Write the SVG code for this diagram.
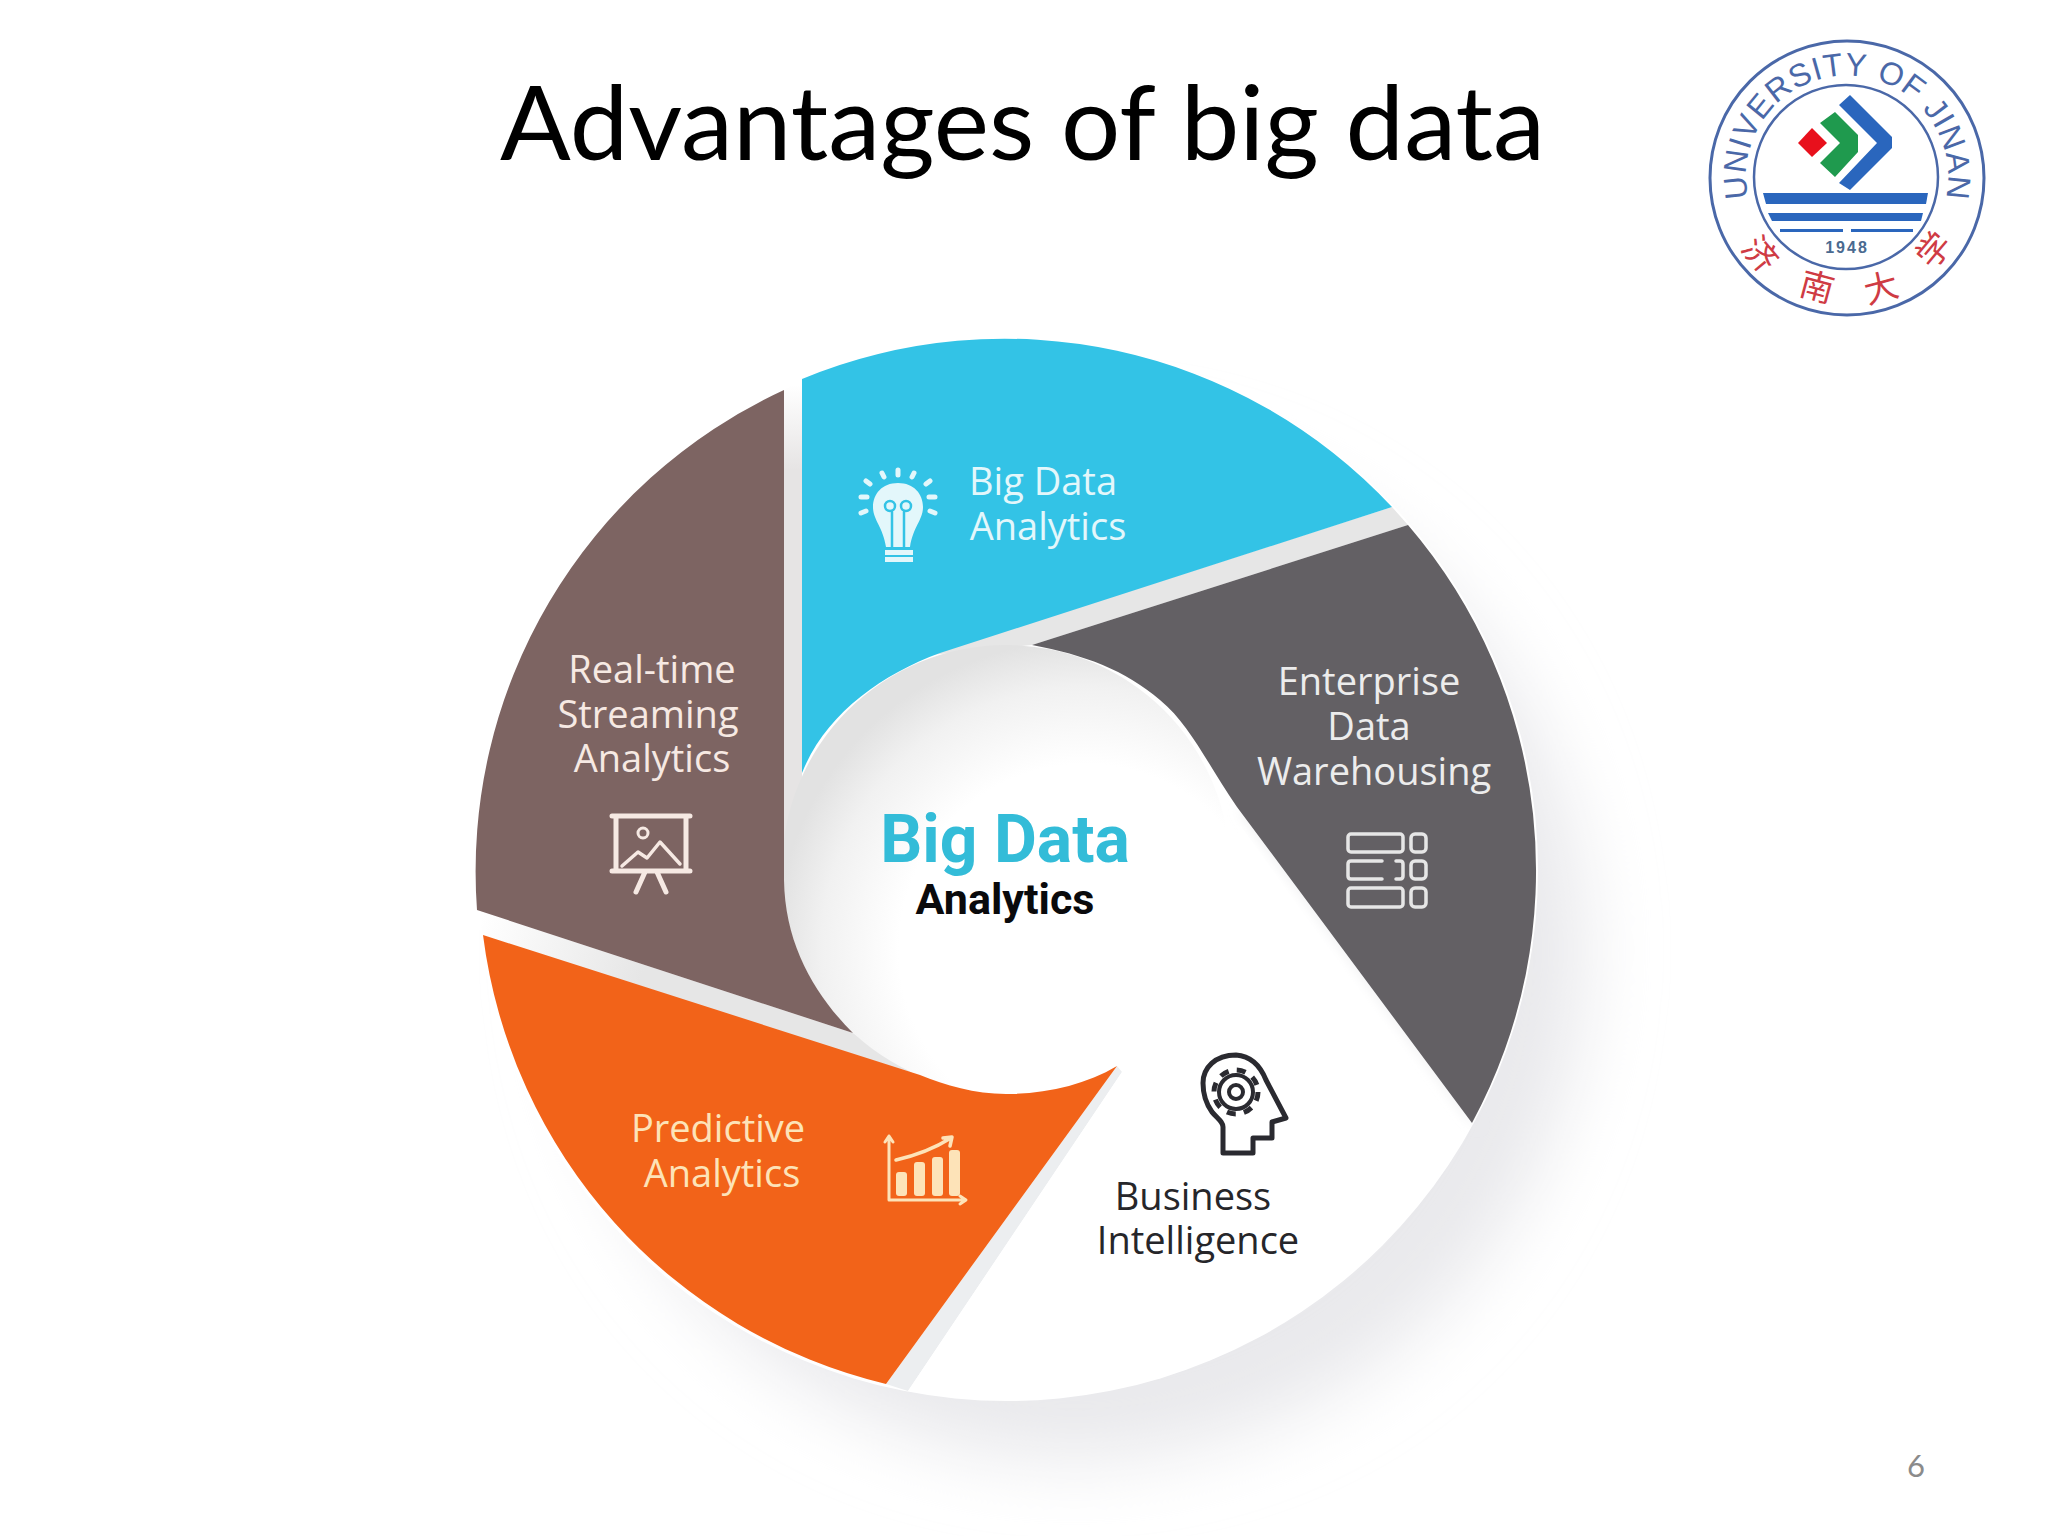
<svg xmlns="http://www.w3.org/2000/svg" width="2048" height="1536" viewBox="0 0 2048 1536">
<style>
.lab{font-family:"Open Sans","Noto Sans",sans-serif;font-size:38px;text-anchor:middle}
.w{fill:#e3f7fb}.br{fill:#f6e9e3}.gy{fill:#ececec}.or{fill:#fde3b8}.bk{fill:#26262a}
.ln{fill:none;stroke-linecap:round;stroke-linejoin:round}
.seal{font-family:"Noto Sans CJK SC",sans-serif;font-size:34px;fill:#cf3b44;text-anchor:middle}
</style>
<defs>
<filter id="blur" x="-20%" y="-20%" width="140%" height="140%"><feGaussianBlur stdDeviation="36"/></filter>
<filter id="soft" x="-20%" y="-20%" width="140%" height="140%"><feGaussianBlur stdDeviation="6"/></filter>
<radialGradient id="hub" gradientUnits="userSpaceOnUse" cx="1085" cy="950" r="310"><stop offset="0.6" stop-color="#fff"/><stop offset="0.85" stop-color="#f1f1f1"/><stop offset="1" stop-color="#e2e2e2"/></radialGradient>
<linearGradient id="gapL" gradientUnits="userSpaceOnUse" x1="480" y1="920" x2="640" y2="980"><stop offset="0" stop-color="#fff"/><stop offset="1" stop-color="#e6e6e6"/></linearGradient>
<linearGradient id="gapT" gradientUnits="userSpaceOnUse" x1="793" y1="385" x2="793" y2="470"><stop offset="0" stop-color="#fff"/><stop offset="1" stop-color="#e6e4e4"/></linearGradient>
<path id="ringText" d="M1749 201A101 101 0 1 1 1945 201"/>
</defs>

<g id="shadow">
<circle cx="1075" cy="950" r="510" fill="#e9e9ec" filter="url(#blur)"/>
<circle cx="1007" cy="870" r="531" fill="#fff"/>
<polygon points="1237,807 1467,1117 1480,1128 1250,815" fill="#e6e6e8" filter="url(#soft)"/>
</g>

<g id="gaps">
<polygon points="784,390 802,379 802,800 784,900" fill="url(#gapT)"/>
<polygon points="1392,507 1408,525 1032,645 930,655" fill="#e6e6e6"/>
<polygon points="477,910 483,935 930,1085 853,1033" fill="url(#gapL)"/>
<polygon points="886,1384 908,1391 1122,1072 1117,1066" fill="#eceef0"/>
</g>

<g id="hub-node">
<circle cx="1006" cy="869" r="224" fill="url(#hub)"/>
<text x="1005" y="862" font-family="Roboto,sans-serif" font-weight="700" font-size="66" fill="#33bcd8" text-anchor="middle">Big Data</text>
<text x="1005" y="914" font-family="Roboto,sans-serif" font-weight="700" font-size="43" fill="#0a0a0c" text-anchor="middle">Analytics</text>
</g>

<g id="node-bigdata">
<path d="M802 379A530 530 0 0 1 1392 507L940 653C880 675 825 715 802 773Z" fill="#33c3e6"/>
<g fill="#e3f7fb">
<path d="M898 483C914 483 923 494 923 507C923 520 913 527 910 547H886C883 527 873 520 873 507C873 494 882 483 898 483Z"/>
<rect x="885" y="550" width="28" height="5"/><rect x="885" y="557" width="28" height="5"/>
</g>
<g class="ln" stroke="#33c3e6" stroke-width="2.5"><path d="M892 547V512M904 547V512"/><circle cx="890" cy="506" r="5"/><circle cx="906" cy="506" r="5"/></g>
<path class="ln" stroke="#e3f7fb" stroke-width="5" d="M866 481l4 3M882 473l2 4M898 470v5M914 473l-2 4M930 481l-4 3M861 497h6M929 497h6M861 513l5-2M935 513l-5-2"/>
<text class="lab w" x="1043" y="495">Big Data</text>
<text class="lab w" x="1048" y="540">Analytics</text>
</g>

<g id="node-warehousing">
<path d="M1032 645L1408 525A530 530 0 0 1 1472 1123L1237 807C1205 760 1190 725 1160 700C1125 670 1085 655 1032 645Z" fill="#636064"/>
<g class="ln" stroke="#e6e6e6" stroke-width="3.5">
<rect x="1348" y="834" width="55" height="18" rx="3"/>
<path d="M1382 861H1351Q1348 861 1348 864V876Q1348 879 1351 879H1382M1396 861H1400Q1403 861 1403 864V876Q1403 879 1400 879H1396"/>
<rect x="1348" y="888" width="55" height="19" rx="3"/>
<rect x="1411" y="834" width="15" height="18" rx="4"/><rect x="1411" y="861" width="15" height="18" rx="4"/><rect x="1411" y="888" width="15" height="19" rx="4"/>
</g>
<text class="lab gy" x="1369" y="695">Enterprise</text>
<text class="lab gy" x="1369" y="740">Data</text>
<text class="lab gy" x="1374" y="785">Warehousing</text>
</g>

<g id="node-business">
<path d="M1463 1136A530 530 0 0 1 908 1391L1122 1072C1185 1000 1228 920 1232 850L1240 825Z" fill="#fff"/>
<g class="ln" stroke="#2a2a30" stroke-width="5">
<path d="M1223 1153H1253V1138H1272V1122L1286 1118L1266 1080C1260 1065 1250 1056 1236 1055C1215 1055 1203 1068 1203 1083C1203 1097 1207 1105 1212 1112C1218 1119 1223 1122 1223 1127Z"/>
<circle cx="1236" cy="1092" r="17" stroke-width="4"/>
<circle cx="1236" cy="1092" r="22" stroke-width="5" stroke-linecap="butt" stroke-dasharray="9 8.3"/>
<circle cx="1236" cy="1092" r="7" stroke-width="4"/>
</g>
<text class="lab bk" x="1193" y="1210">Business</text>
<text class="lab bk" x="1198" y="1254">Intelligence</text>
</g>

<g id="node-predictive">
<path d="M483 935A530 530 0 0 0 886 1384L1117 1066C1085 1085 1045 1094 1006 1094C975 1094 945 1085 920 1075Z" fill="#f26319"/>
<path class="ln" stroke="#fde3b8" stroke-width="3" d="M889 1136V1200H965M885 1142L889 1136L893 1142M960 1196L966 1200L960 1204"/>
<g fill="#fde3b8"><rect x="896" y="1172" width="11" height="24" rx="3"/><rect x="914" y="1162" width="11" height="34" rx="3"/><rect x="932" y="1157" width="11" height="39" rx="3"/><rect x="949" y="1150" width="11" height="46" rx="3"/></g>
<path class="ln" stroke="#fde3b8" stroke-width="3.5" d="M896 1160C918 1155 935 1148 951 1138M943 1138L952 1137L950 1146"/>
<text class="lab or" x="718" y="1142">Predictive</text>
<text class="lab or" x="722" y="1187">Analytics</text>
</g>

<g id="node-streaming">
<path d="M784 390A530 530 0 0 0 477 910L853 1033C815 995 785 945 784 880Z" fill="#7d6462"/>
<g class="ln" stroke="#f6e9e3" stroke-width="5">
<path d="M612 816H690M616 816V870M686 816V870M612 871H690M645 872L636 892M657 872L666 892"/>
<path stroke-width="3.5" d="M622 866L638 852L647 858L660 842L680 864"/>
<circle cx="643" cy="833" r="5" stroke-width="3"/>
</g>
<text class="lab br" x="652" y="683">Real-time</text>
<text class="lab br" x="648" y="728">Streaming</text>
<text class="lab br" x="652" y="772">Analytics</text>
</g>

<g id="title">
<text x="500" y="160" font-family="Lato,sans-serif" font-size="103" fill="#000" textLength="1045" lengthAdjust="spacingAndGlyphs">Advantages of big data</text>
</g>

<g id="logo">
<circle cx="1847" cy="178" r="137" fill="#fff" stroke="#4a68a8" stroke-width="3"/>
<circle cx="1846" cy="177" r="92" fill="none" stroke="#4a68a8" stroke-width="2.5"/>
<text font-family="'Liberation Sans',sans-serif" font-size="32" fill="#4a68a8" text-anchor="middle"><textPath href="#ringText" startOffset="50%" textLength="360">UNIVERSITY OF JINAN</textPath></text>
<polygon points="1812,128 1827,143 1812,157 1798,143" fill="#e8101c"/>
<polygon points="1820,123 1835,112 1858,135 1858,152 1835,177 1820,163 1840,143" fill="#1f9a4e"/>
<polygon points="1839,105 1850,95 1892,137 1892,148 1850,190 1839,183 1877,143" fill="#2a66bd"/>
<polygon points="1763,193 1928,193 1926,204 1766,204" fill="#2a66bd"/>
<polygon points="1768,213 1923,213 1921,221 1772,221" fill="#2a66bd"/>
<rect x="1780" y="229" width="63" height="3" fill="#2a66bd"/><rect x="1851" y="229" width="62" height="3" fill="#2a66bd"/>
<text x="1847" y="253" font-family="'Liberation Sans',sans-serif" font-weight="700" font-size="16" letter-spacing="2" fill="#4a6a90" text-anchor="middle">1948</text>
<text class="seal" transform="translate(1760 254) rotate(50)" y="12">济</text>
<text class="seal" transform="translate(1817 287) rotate(15)" y="12">南</text>
<text class="seal" transform="translate(1881 288) rotate(-15)" y="12">大</text>
<text class="seal" transform="translate(1934 250) rotate(-50)" y="12">学</text>
</g>

<g id="page"><text x="1916" y="1477" font-family="Lato,sans-serif" font-size="31" fill="#8b8b8b" text-anchor="middle">6</text></g>
</svg>
